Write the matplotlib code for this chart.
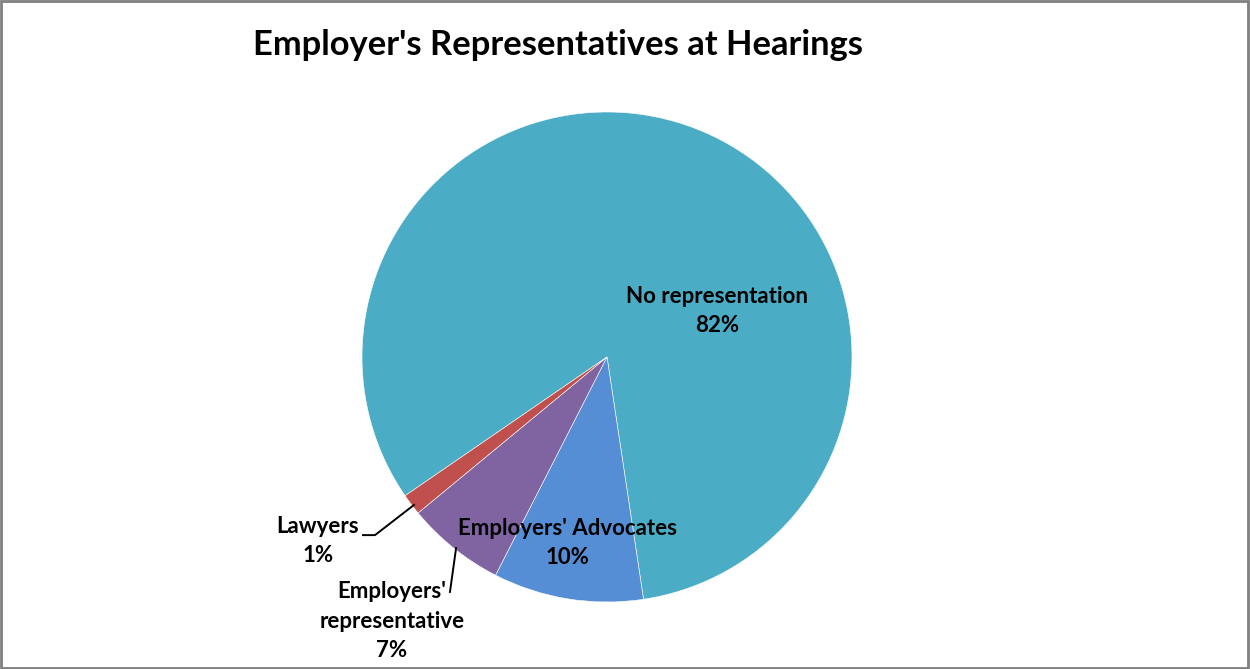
import matplotlib.pyplot as plt
import numpy as np

labels = ["No representation", "Employers' Advocates", "Employers'\nrepresentative", "Lawyers"]
values = [82.2, 9.9, 6.5, 1.4]
pct_text = ["82%", "10%", "7%", "1%"]
colors = ["#4BACC6", "#558ED5", "#8064A2", "#C0504D"]

plt.rcParams['font.family'] = ['Lato', 'DejaVu Sans']

fig = plt.figure(figsize=(12.5, 6.69), dpi=100)

# pie centre ~ (607, 357) px, radius ~245 px
cx, cy, r = 607, 357, 245
ax = fig.add_axes([(cx - r) / 1250, (669 - cy - r) / 669, 2 * r / 1250, 2 * r / 669])
ax.pie(values, colors=colors, startangle=214.5, counterclock=False, radius=1,
       wedgeprops=dict(edgecolor='white', linewidth=0.4))
ax.set_xlim(-1, 1)
ax.set_ylim(-1, 1)
ax.set_aspect('equal')
ax.axis('off')

# data label positions (as placed in the original)
label_pos = [(0.449, 0.188), (-0.163, -0.759), (-0.878, -1.078), (-1.18, -0.751)]
for lab, pct, (x, y) in zip(labels, pct_text, label_pos):
    ax.text(x, y, lab + "\n" + pct, ha='center', va='center', fontsize=16,
            fontweight='bold', linespacing=1.5, clip_on=False)

# leader lines
ax.plot([-0.788, -0.947, -0.996], [-0.604, -0.727, -0.727], color='black', lw=1.4, clip_on=False)
ax.plot([-0.616, -0.641], [-0.780, -0.959], color='black', lw=1.4, clip_on=False)

fig.text(558 / 1250, 1 - 45 / 669, "Employer's Representatives at Hearings",
         ha='center', va='center', fontsize=24.8, fontweight='bold')

# chart border
fig.patches.append(plt.Rectangle((0.001, 0.002), 0.997, 0.996, transform=fig.transFigure,
                                 fill=False, edgecolor='#808080', linewidth=2))

fig.savefig("out.png", dpi=100)
